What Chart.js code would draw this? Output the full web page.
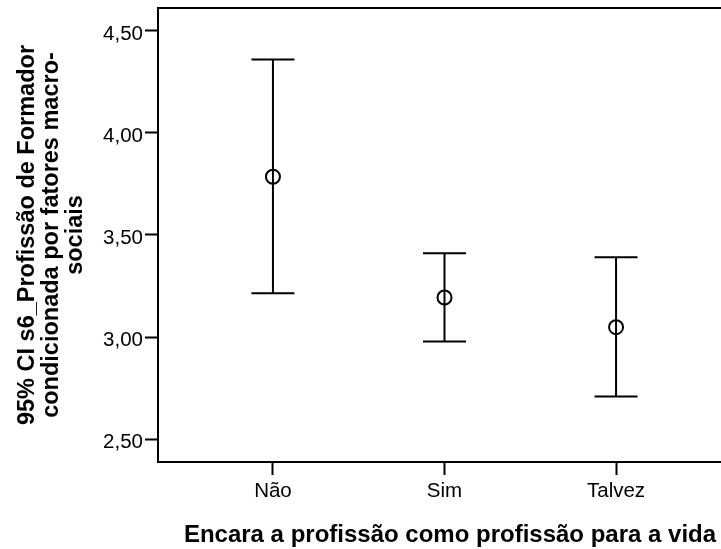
<!DOCTYPE html>
<html>
<head>
<meta charset="utf-8">
<script src="https://cdn.jsdelivr.net/npm/chart.js@4.4.1/dist/chart.umd.min.js"></script>
<style>
  html, body { margin: 0; padding: 0; background: #fff; overflow: hidden; width: 721px; height: 549px; }
  canvas { display: block; }
</style>
</head>
<body>
<canvas id="c" width="740" height="549"></canvas>
<script>
// ---- data ----
const categories = ['Não', 'Sim', 'Talvez'];
const means = [3.785, 3.194, 3.049];
const lowerCI = [3.215, 2.979, 2.710];
const upperCI = [4.359, 3.411, 3.391];
const yTicks = [2.5, 3.0, 3.5, 4.0, 4.5];
const yTitleLines = ['95% CI s6_Profissão de Formador', 'condicionada por fatores macro-', 'sociais'];
const xTitle = 'Encara a profissão como profissão para a vida';

const FONT = '"Liberation Sans", Arial, Helvetica, sans-serif';

function noPad(s) { s.paddingTop = 0; s.paddingBottom = 0; s.paddingLeft = 0; s.paddingRight = 0; }

const errorBars = {
  id: 'errorBars',
  beforeDatasetsDraw(chart) {
    const ctx = chart.ctx, xs = chart.scales.x, ys = chart.scales.y;
    const cap = 21.5;
    ctx.save();
    ctx.strokeStyle = '#000';
    ctx.lineWidth = 2;
    categories.forEach((c, i) => {
      const x = xs.getPixelForValue(i);
      const yt = ys.getPixelForValue(upperCI[i]);
      const yb = ys.getPixelForValue(lowerCI[i]);
      ctx.beginPath();
      ctx.moveTo(x, yt); ctx.lineTo(x, yb);
      ctx.moveTo(x - cap, yt); ctx.lineTo(x + cap, yt);
      ctx.moveTo(x - cap, yb); ctx.lineTo(x + cap, yb);
      ctx.stroke();
    });
    ctx.restore();
  },
  afterDraw(chart) {
    const ctx = chart.ctx, a = chart.chartArea;
    ctx.save();
    // top frame line
    ctx.strokeStyle = '#000';
    ctx.lineWidth = 2;
    ctx.beginPath();
    ctx.moveTo(a.left - 1, a.top);
    ctx.lineTo(a.right, a.top);
    ctx.stroke();
    // y title
    ctx.fillStyle = '#000';
    ctx.textAlign = 'center';
    ctx.textBaseline = 'alphabetic';
    ctx.font = 'bold 23.5px ' + FONT;
    const cy = (a.top + a.bottom) / 2;
    yTitleLines.forEach((t, i) => {
      ctx.save();
      ctx.translate(33.5 + i * 24, cy);
      ctx.rotate(-Math.PI / 2);
      ctx.fillText(t, 0, 0);
      ctx.restore();
    });
    // x title
    ctx.font = 'bold 24px ' + FONT;
    ctx.fillText(xTitle, 450, 542);
    ctx.restore();
  }
};

new Chart(document.getElementById('c'), {
  type: 'scatter',
  data: {
    datasets: [{
      data: means.map((m, i) => ({ x: i, y: m })),
      pointStyle: 'circle',
      pointRadius: 7,
      pointHoverRadius: 7,
      borderColor: '#000',
      backgroundColor: 'rgba(0,0,0,0)',
      pointBorderWidth: 2,
      borderWidth: 2
    }]
  },
  options: {
    responsive: false,
    animation: false,
    devicePixelRatio: 1,
    layout: { autoPadding: false, padding: { left: 0, top: 8, right: 9, bottom: 0 } },
    plugins: { legend: { display: false }, tooltip: { enabled: false } },
    scales: {
      x: {
        type: 'linear',
        min: -0.67,
        max: 2.67,
        afterBuildTicks: s => { s.ticks = categories.map((c, i) => ({ value: i })); },
        afterFit: s => { s.height = 87; noPad(s); },
        ticks: {
          callback: v => categories[v],
          color: '#000',
          font: { family: FONT, size: 20.5 },
          padding: 4,
          maxRotation: 0,
          autoSkip: false
        },
        grid: { drawOnChartArea: false, tickLength: 13, tickWidth: 2, tickColor: '#000' },
        border: { display: true, color: '#000', width: 2 }
      },
      y: {
        min: 2.389,
        max: 4.611,
        afterBuildTicks: s => { s.ticks = yTicks.map(v => ({ value: v })); },
        afterFit: s => { s.width = 158; noPad(s); },
        ticks: {
          callback: v => v.toFixed(2).replace('.', ','),
          color: '#000',
          font: { family: FONT, size: 20.5 },
          padding: 2,
          labelOffset: 3.5
        },
        grid: { drawOnChartArea: false, tickLength: 13, tickWidth: 2, tickColor: '#000' },
        border: { display: true, color: '#000', width: 2 }
      }
    }
  },
  plugins: [errorBars]
});
</script>
</body>
</html>
